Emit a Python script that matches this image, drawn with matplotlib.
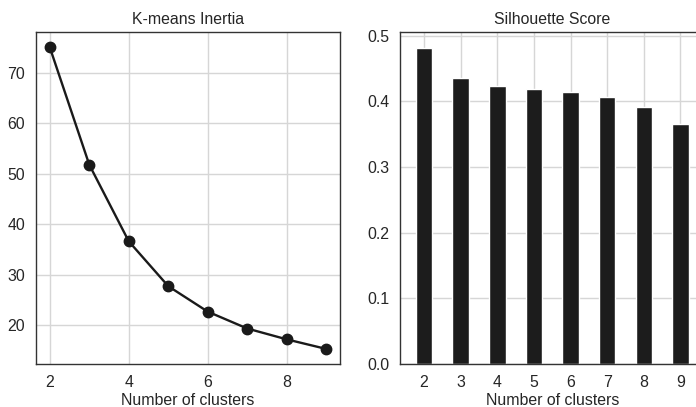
import matplotlib
matplotlib.use("Agg")
import matplotlib.pyplot as plt
import seaborn as sns

k_values = [2, 3, 4, 5, 6, 7, 8, 9]
inertia = [75.1, 51.8, 36.6, 27.7, 22.65, 19.3, 17.15, 15.25]
silhouette = [0.481, 0.435, 0.424, 0.419, 0.414, 0.407, 0.392, 0.366]

sns.set_style("white")
plt.rcParams['font.family'] = ['Liberation Sans', 'DejaVu Sans']
plt.rcParams['font.size'] = 11.4
plt.rcParams['axes.edgecolor'] = '#333333'
plt.rcParams['axes.linewidth'] = 1.0
plt.rcParams['text.color'] = '#262626'
plt.rcParams['axes.labelcolor'] = '#262626'
plt.rcParams['xtick.color'] = '#262626'
plt.rcParams['ytick.color'] = '#262626'

W, H = 696, 407
fig = plt.figure(figsize=(W / 100, H / 100), dpi=100)
fig.patch.set_facecolor('white')

ax1 = fig.add_axes([36 / W, (H - 364) / H, 304 / W, (364 - 32.3) / H])
ax2 = fig.add_axes([400.3 / W, (H - 364) / H, 304 / W, (364 - 32.3) / H])

ax1.plot(k_values, inertia, color='#1a1a1a', linewidth=1.7, marker='o', markersize=7.5)
ax1.set_title('K-means Inertia', fontsize=11.4)
ax1.set_xlabel('Number of clusters', fontsize=11.4, labelpad=2)
ax1.set_xticks([2, 4, 6, 8])
ax1.grid(True, color='#d6d6d6', linewidth=1.0)
ax1.set_axisbelow(True)

ax2.bar(k_values, silhouette, width=0.45, color='#1c1c1c')
ax2.set_title('Silhouette Score', fontsize=11.4)
ax2.set_xlabel('Number of clusters', fontsize=11.4, labelpad=2)
ax2.set_xticks(k_values)
ax2.set_xlim(1.35, 9.65)
ax2.grid(True, color='#d6d6d6', linewidth=1.0)
ax2.set_axisbelow(True)

for ax in (ax1, ax2):
    ax.tick_params(axis='x', length=0, pad=8, labelsize=11.4)
    ax.tick_params(axis='y', length=0, pad=8, labelsize=11.4)

fig.savefig('out.png', dpi=100, facecolor='white')
